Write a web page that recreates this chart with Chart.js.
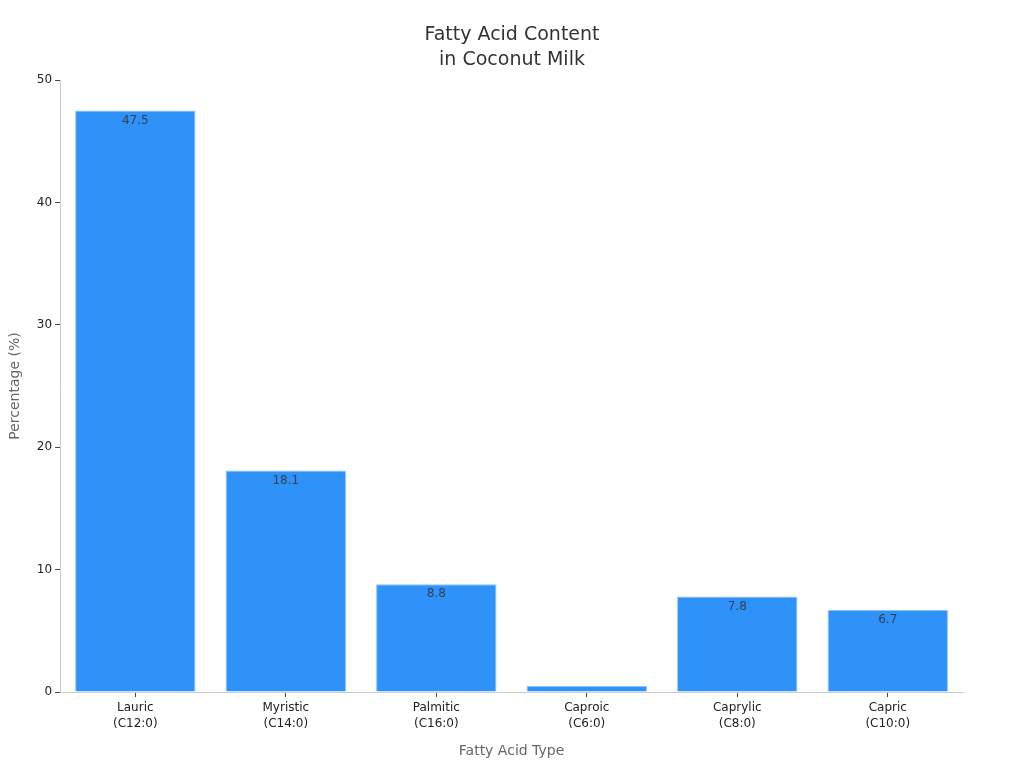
<!DOCTYPE html>
<html><head><meta charset="utf-8">
<script src="https://cdn.jsdelivr.net/npm/chart.js@4"></script>
<style>html,body{margin:0;padding:0;background:#fff}#wrap{width:1024px;height:768px}</style>
</head><body><div id="wrap"><canvas id="c"></canvas></div>
<script>
const categories = [["Lauric","(C12:0)"],["Myristic","(C14:0)"],["Palmitic","(C16:0)"],["Caproic","(C6:0)"],["Caprylic","(C8:0)"],["Capric","(C10:0)"]];
const values = [47.5, 18.1, 8.8, 0.5, 7.8, 6.7];
const valueLabels = ["47.5","18.1","8.8","","7.8","6.7"];
const yTicks = [0,10,20,30,40,50];
const titleLines = ['Fatty Acid Content','in Coconut Milk'];

const labelPlugin = {
  id:'vals',
  afterDatasetsDraw(chart){
    const ctx = chart.ctx;
    const meta = chart.getDatasetMeta(0);
    ctx.save();
    ctx.font = '12px "DejaVu Sans"';
    ctx.fillStyle = 'rgba(51,51,51,0.85)';
    ctx.textAlign = 'center';
    ctx.textBaseline = 'top';
    meta.data.forEach((bar,i)=>{
      if(!valueLabels[i]) return;
      ctx.fillText(valueLabels[i], bar.x, bar.y + 4);
    });
    ctx.restore();
  }
};
const titlePlugin = {
  id:'ctitle',
  afterDraw(chart){
    const ctx = chart.ctx;
    ctx.save();
    ctx.font = '19px "DejaVu Sans"';
    ctx.fillStyle = '#333';
    ctx.textAlign = 'center';
    ctx.textBaseline = 'middle';
    titleLines.forEach((t,i)=>ctx.fillText(t, chart.width/2, 35 + i*25));
    ctx.restore();
  }
};

Chart.defaults.font.family = '"DejaVu Sans", sans-serif';
new Chart(document.getElementById('c'), {
  type:'bar',
  data:{labels:categories, datasets:[{data:values, backgroundColor:'#2f92f8', borderColor:'#8cc3fb', borderWidth:1, barPercentage:1, categoryPercentage:0.8}]},
  options:{
    responsive:true, maintainAspectRatio:false, animation:false,
    layout:{padding:{left:3,right:61,top:80,bottom:8}},
    plugins:{ legend:{display:false}, tooltip:{enabled:false}, title:{display:false} },
    scales:{
      x:{grid:{display:true, offset:false, drawOnChartArea:false, drawTicks:true, tickLength:5, tickColor:'#444'}, border:{color:'#ccc'},
         ticks:{color:'#222', font:{size:12, lineHeight:1.3}, padding:3},
         title:{display:true, text:'Fatty Acid Type', color:'#666', font:{size:14}, padding:{top:9,bottom:0}}},
      y:{min:0,max:50, afterBuildTicks:(s)=>{s.ticks=yTicks.map(v=>({value:v}));},
         grid:{display:true, drawOnChartArea:false, drawTicks:true, tickLength:5, tickColor:'#444'}, border:{color:'#ccc'},
         ticks:{color:'#222', font:{size:12}, padding:3},
         title:{display:true, text:'Percentage (%)', color:'#666', font:{size:14}, padding:{bottom:10}}}
    }
  },
  plugins:[labelPlugin, titlePlugin]
});
</script></body></html>
